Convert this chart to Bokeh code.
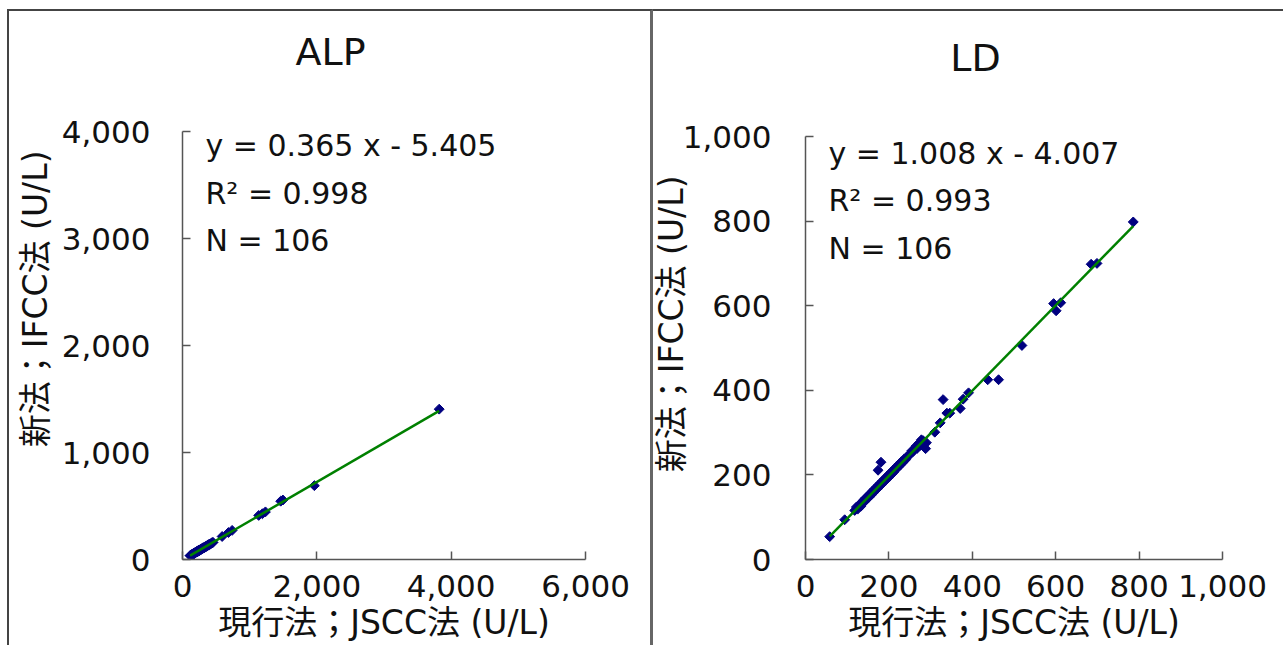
import math
from bokeh.plotting import figure
from bokeh.layouts import row
from bokeh.models import Label, Title, Range1d, NumeralTickFormatter, FixedTicker
from bokeh.embed import file_html
from bokeh.resources import INLINE

# ---------------- data ----------------
alp_title = "ALP"
ld_title = "LD"
x_label = "現行法；JSCC法 (U/L)"
y_label = "新法；IFCC法 (U/L)"

alp_x = [112, 118, 125, 131, 138, 142, 146, 149, 152, 156, 160, 163, 165, 168, 171, 174, 176, 179,
         182, 185, 188, 190, 193, 196, 198, 201, 204, 207, 210, 213, 215, 218, 221, 224, 226, 229,
         232, 235, 238, 241, 243, 246, 249, 252, 255, 259, 262, 265, 268, 272, 275, 278, 281, 285,
         288, 292, 296, 300, 304, 308, 312, 316, 320, 325, 330, 335, 341, 346, 352, 358, 364, 370,
         377, 383, 390, 397, 405, 412, 420, 428, 438, 446, 455, 590, 684, 739, 1135, 1190, 1235,
         1462, 1495, 1963, 3822]
alp_y = [36, 38, 41, 43, 44, 47, 49, 49, 51, 52, 52, 55, 56, 56, 57, 59, 60, 60,
         60, 63, 64, 63, 65, 67, 66, 68, 70, 70, 71, 73, 72, 74, 76, 76, 77, 78,
         78, 81, 82, 82, 83, 84, 86, 86, 87, 89, 91, 91, 92, 94, 94, 96, 98, 98,
         99, 101, 104, 104, 106, 107, 108, 110, 112, 113, 114, 117, 120, 120, 122, 125, 128, 129,
         131, 135, 138, 139, 143, 145, 147, 151, 156, 157, 160, 215, 252, 272, 412, 428, 445,
         545, 556, 690, 1405]
alp_fit = (0.365, -5.405)
alp_stats = ["y = 0.365 x - 5.405", "R² = 0.998", "N = 106"]

ld_x = [58, 94, 118, 122, 125, 128, 131, 133, 135, 138, 140, 142, 145, 147, 150, 152, 155, 157,
        160, 162, 165, 167, 170, 172, 175, 177, 180, 182, 185, 187, 190, 192, 195, 197, 200, 202,
        205, 207, 210, 212, 215, 218, 220, 223, 225, 228, 230, 233, 236, 240, 244, 248, 252, 255,
        258, 262, 265, 268, 272, 275, 278, 283, 288, 290, 174, 181, 310, 323, 330, 339, 346, 371,
        378, 391, 437, 463, 519, 595, 601, 612, 685, 699, 786]
ld_y = [54, 94, 116, 124, 119, 127, 130, 126, 136, 134, 141, 137, 146, 143, 150, 147, 156, 152,
        161, 157, 166, 163, 171, 167, 176, 172, 181, 177, 186, 183, 191, 187, 196, 192, 201, 197,
        206, 202, 211, 207, 216, 214, 221, 219, 226, 224, 231, 229, 237, 236, 242, 248, 250, 257,
        255, 262, 268, 263, 275, 270, 283, 280, 262, 276, 211, 230, 301, 323, 378, 346, 346, 357,
        379, 394, 425, 425, 506, 605, 588, 607, 698, 700, 798]
ld_fit = (1.008, -4.007)
ld_stats = ["y = 1.008 x - 4.007", "R² = 0.993", "N = 106"]

alp_xticks = [0, 2000, 4000, 6000]
alp_yticks = [0, 1000, 2000, 3000, 4000]
ld_xticks = [0, 200, 400, 600, 800, 1000]
ld_yticks = [0, 200, 400, 600, 800, 1000]

# ---------------- styling ----------------
NUM_FONT = "DejaVu Sans"
JP_FONT = "DejaVu Sans, Noto Sans CJK JP"
AXIS_COLOR = "#555555"
TEXT_COLOR = "#111111"
MARKER_COLOR = "#000080"
LINE_COLOR = "#008000"
FIG_H = 636
FRAME_TOP = 24     # page px (frames of a row share top/bottom)
FRAME_BOT = 559


def make_panel(xs, ys, fit, stats, title, xticks, yticks, xmax, ymax, width, borders, lay):
    # data top (ymax) sits at lay["dtop"] page px; frame extends above it for the titles
    ytop = ymax * (FRAME_BOT - FRAME_TOP) / (FRAME_BOT - lay["dtop"])
    p = figure(width=width, height=FIG_H, output_backend="svg", toolbar_location=None,
               x_range=Range1d(0, xmax), y_range=Range1d(0, ytop),
               min_border_left=lay["left"], min_border_right=lay["right"],
               min_border_top=13, min_border_bottom=88)
    p.styles = borders
    p.outline_line_color = None
    p.background_fill_color = "white"
    p.border_fill_color = "white"
    p.xgrid.visible = False
    p.ygrid.visible = False

    for ax, ticks in ((p.xaxis[0], xticks), (p.yaxis[0], yticks)):
        ax.ticker = FixedTicker(ticks=ticks)
        ax.formatter = NumeralTickFormatter(format="0,0")
        ax.axis_line_color = AXIS_COLOR
        ax.axis_line_width = 1.5
        ax.major_tick_line_color = AXIS_COLOR
        ax.major_tick_line_width = 1.5
        ax.major_tick_in = 8
        ax.major_tick_out = 0
        ax.minor_tick_line_color = None
        ax.major_label_text_font = NUM_FONT
        ax.major_label_text_font_size = "31px"
        ax.major_label_text_color = TEXT_COLOR
    p.yaxis[0].bounds = (0, ymax)
    p.yaxis[0].major_label_standoff = lay["ystandoff"]

    xa = p.xaxis[0]
    xa.major_label_standoff = 15
    xa.axis_label = x_label
    xa.axis_label_standoff = 3
    xa.axis_label_text_font = JP_FONT
    xa.axis_label_text_font_size = "33px"
    xa.axis_label_text_font_style = "normal"
    xa.axis_label_text_color = TEXT_COLOR

    # y-axis title placed in the left panel, its upper end at a given distance below frame top
    p.add_layout(Title(text=y_label, align="right", offset=lay["ylab_off"],
                       standoff=lay["ylab_stand"], text_font=JP_FONT, text_font_size="33px",
                       text_font_style="normal", text_color=TEXT_COLOR), "left")

    p.scatter(xs, ys, marker="square", angle=math.pi / 4, size=7, color=MARKER_COLOR)
    x0, x1 = min(xs), max(xs)
    a, b = fit
    p.line([x0, x1], [a * x0 + b, a * x1 + b], line_color=LINE_COLOR, line_width=2.5)

    tx, ty = lay["title_xy"]
    p.add_layout(Label(x=tx, y=ty, x_units="screen", y_units="screen", text=title,
                       text_align="center", text_baseline="middle", text_font=NUM_FONT,
                       text_font_size="38px", text_color=TEXT_COLOR))
    for txt, yy in zip(stats, lay["rows"]):
        p.add_layout(Label(x=23, y=yy, x_units="screen", y_units="screen",
                           text=txt, text_align="left", text_baseline="middle",
                           text_font=NUM_FONT, text_font_size="30px", text_color=TEXT_COLOR))
    return p


# page layout: row placed at (7, 9); left figure 646 wide, right figure 630 wide
left = make_panel(alp_x, alp_y, alp_fit, alp_stats, alp_title, alp_xticks, alp_yticks,
                  6000, 4000, 646,
                  {"border-left": "2px solid #444", "border-top": "2px solid #444",
                   "border-right": "3px solid #666", "box-sizing": "border-box"},
                  dict(left=173, right=70, dtop=131, ystandoff=32, ylab_off=126,
                       ylab_stand=8, title_xy=(148, 508), rows=[414, 366, 319]))

right = make_panel(ld_x, ld_y, ld_fit, ld_stats, ld_title, ld_xticks, ld_yticks,
                   1000, 1000, 630,
                   {"border-top": "2px solid #444", "box-sizing": "border-box"},
                   dict(left=152, right=61, dtop=136, ystandoff=34, ylab_off=151,
                        ylab_stand=-22, title_xy=(170, 502), rows=[406, 359, 311]))

layout = row(left, right, spacing=0, margin=(9, 0, 0, 7))
open("out.html", "w").write(file_html(layout, INLINE))
